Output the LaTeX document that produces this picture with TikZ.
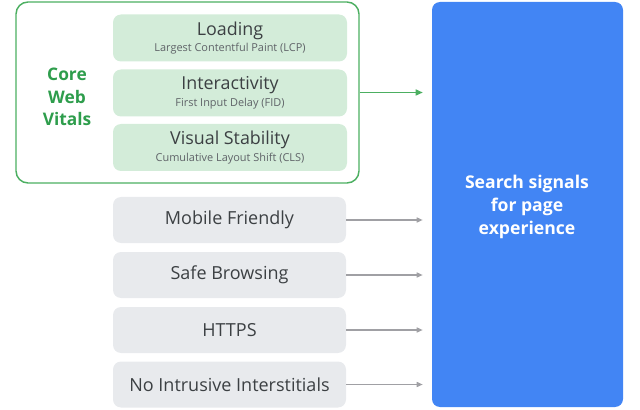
\documentclass[tikz,border=0pt]{standalone}
\usepackage{fontspec}
\setmainfont{Open Sans}
\usetikzlibrary{arrows.meta}
\definecolor{gborder}{HTML}{4CAF61}
\definecolor{gtext}{HTML}{2E9D4C}
\definecolor{gfill}{HTML}{D3ECD9}
\definecolor{grayfill}{HTML}{E8EAED}
\definecolor{gblue}{HTML}{4285F4}
\definecolor{tdark}{HTML}{3C4043}
\definecolor{tsub}{HTML}{5F6368}
\definecolor{garrow}{HTML}{A0A0A4}
\tikzset{
  vitalbox/.style={rectangle, rounded corners=6pt, fill=gfill, minimum width=175.5pt, minimum height=35.25pt, inner sep=0pt, align=center, text=tdark},
  signalbox/.style={rectangle, rounded corners=6pt, fill=grayfill, minimum width=174.75pt, minimum height=34.5pt, inner sep=0pt, align=center, text=tdark, font=\fontsize{13.5}{15}\selectfont},
  vtitle/.style={font=\fontsize{13.4}{15}\selectfont},
  garr/.style={draw=garrow, line width=1.05pt, -{Triangle[length=4.5pt,width=3.75pt]}, shorten >=6.75pt},
  grarr/.style={draw=gborder, line width=1.1pt, -{Triangle[length=5.25pt,width=4.5pt]}, shorten >=6.75pt},
}
\newcommand{\vsub}[1]{{\fontsize{8.2}{9}\selectfont\color{tsub}#1}}
\begin{document}
\begin{tikzpicture}[x=0.75pt,y=-0.75pt]
\useasboundingbox (0,0) rectangle (640,410);
\node[rectangle, rounded corners=9pt, draw=gborder, line width=1.1pt, minimum width=257.25pt, minimum height=135.75pt] (cwv) at (187.5,92.5) {};
\node[text=gtext, align=center, font=\fontsize{13}{17}\selectfont\bfseries] (cwvt) at (67,97) {Core\\Web\\Vitals};
\node[vitalbox] (load) at (230,38) {{\fontsize{13.4}{15}\selectfont Loading}\\[0.5pt]\vsub{Largest Contentful Paint (LCP)}};
\node[vitalbox] (inter) at (230,93) {{\fontsize{13.4}{15}\selectfont Interactivity}\\[0.5pt]\vsub{First Input Delay (FID)}};
\node[vitalbox] (vis) at (230,147.5) {{\fontsize{13.4}{15}\selectfont Visual Stability}\\[0.5pt]\vsub{Cumulative Layout Shift (CLS)}};
\node[signalbox] (mob) at (229.5,220) {Mobile Friendly};
\node[signalbox] (safe) at (229.5,275) {Safe Browsing};
\node[signalbox] (https) at (229.5,330) {HTTPS};
\node[signalbox] (nii) at (229.5,384.5) {No Intrusive Interstitials};
\node[rectangle, rounded corners=6pt, fill=gblue, minimum width=143.25pt, minimum height=303.75pt, inner sep=0pt] (blue) at (527.5,204.5) {};
\node[text=white, align=center, font=\fontsize{13.2}{17}\selectfont\bfseries] (bluet) at (527,207) {Search signals\\for page\\experience};
\draw[grarr] (cwv.east) -- (cwv.east -| blue.west);
\draw[garr] (mob.east) -- (mob.east -| blue.west);
\draw[garr] (safe.east) -- (safe.east -| blue.west);
\draw[garr] (https.east) -- (https.east -| blue.west);
\draw[garr] (nii.east) -- (nii.east -| blue.west);
\end{tikzpicture}
\end{document}
